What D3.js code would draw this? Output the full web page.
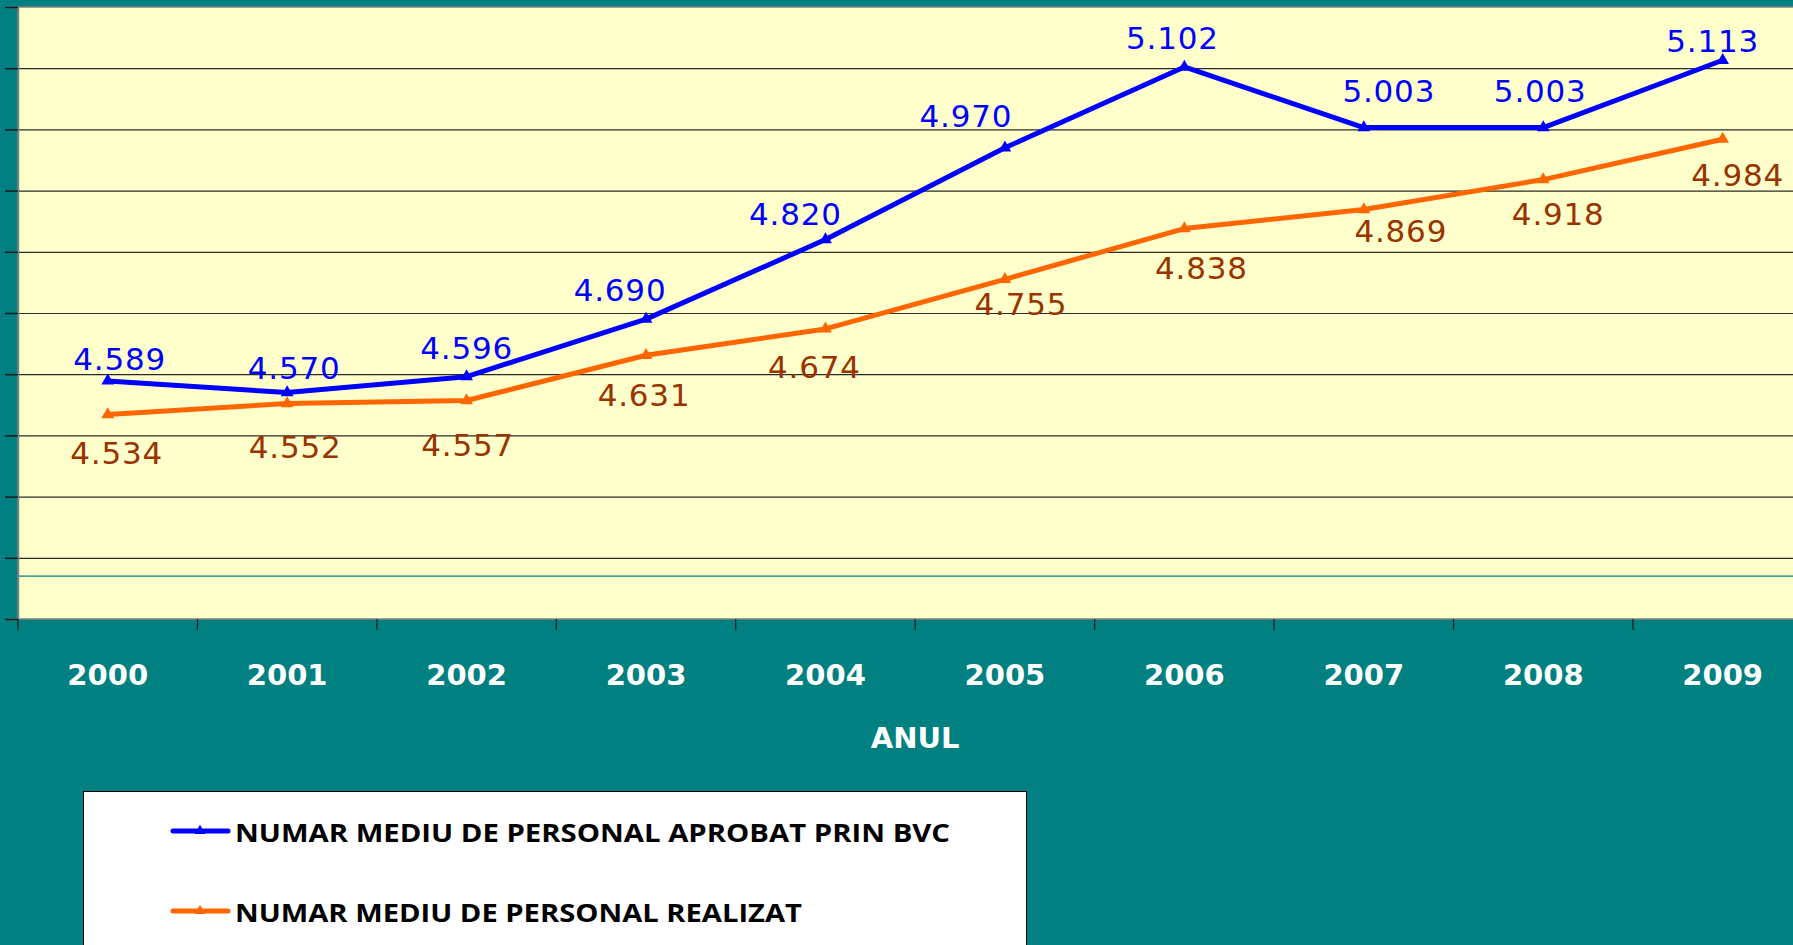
<!DOCTYPE html>
<html>
<head>
<meta charset="utf-8">
<script src="https://cdn.jsdelivr.net/npm/d3@7"></script>
<style>
  body { margin: 0; background: #008080; overflow: hidden; }
</style>
</head>
<body>
<div id="plot"></div>
<script>
// Data
const years = ["2000", "2001", "2002", "2003", "2004", "2005", "2006", "2007", "2008", "2009"];
const aprobat = [4.589, 4.570, 4.596, 4.690, 4.820, 4.970, 5.102, 5.003, 5.003, 5.113];
const realizat = [4.534, 4.552, 4.557, 4.631, 4.674, 4.755, 4.838, 4.869, 4.918, 4.984];
const seriesNames = ["NUMAR MEDIU DE PERSONAL APROBAT PRIN BVC", "NUMAR MEDIU DE PERSONAL REALIZAT"];
const xTitle = "ANUL";
const yDomain = [4.2, 5.2];
const refLine = 4.27;

// Label nudges (manual moves, like in the original sheet)
const blueNudgeX = [12, 7, 0, -26, -30, -39, -12, 25, -3, -10];
const blueNudgeY = [-22, -25, -29, -29, -26, -32, -29, -37, -37, -19];
const orangeNudgeX = [9, 8, 1, -2, -11, 16, 17, 37, 15, 15];
const orangeNudgeY = [38, 43, 44, 40, 38, 25, 39, 21, 34, 36];

function createPlot() {
    d3.select("#plot").html("");

    const width = 1793;
    const height = 945;
    const plotLeft = 18;
    const plotRight = 1812.4;   // plot runs past the window edge
    const plotTop = 7;
    const plotBottom = 619;

    const svg = d3.select("#plot")
        .append("svg")
        .attr("width", width)
        .attr("height", height)
        .attr("viewBox", [0, 0, width, height])
        .style("display", "block");

    svg.append("rect")
        .attr("width", width).attr("height", height)
        .attr("fill", "#008080");

    const x = d3.scaleBand()
        .domain(years)
        .range([plotLeft, plotRight])
        .padding(0);

    const y = d3.scaleLinear()
        .domain(yDomain)
        .range([plotBottom, plotTop]);

    const cx = d => x(d) + x.bandwidth() / 2;

    // plot area
    svg.append("rect")
        .attr("x", plotLeft)
        .attr("y", plotTop)
        .attr("width", plotRight - plotLeft)
        .attr("height", plotBottom - plotTop)
        .attr("fill", "#FFFFCC")
        .attr("stroke", "#808080")
        .attr("stroke-width", 1.5);

    // grid lines
    const yTicks = d3.range(yDomain[0] + 0.1, yDomain[1] - 0.05, 0.1);
    svg.append("g")
        .attr("transform", `translate(${plotLeft},0)`)
        .call(d3.axisLeft(y).tickValues(yTicks).tickSize(-(plotRight - plotLeft)).tickFormat(""))
        .call(g => g.select(".domain").remove())
        .call(g => g.selectAll("line").attr("stroke", "#2a2a2a").attr("stroke-width", 1.2));

    // teal reference line
    svg.append("line")
        .attr("x1", plotLeft).attr("x2", plotRight)
        .attr("y1", y(refLine)).attr("y2", y(refLine))
        .attr("stroke", "#008080")
        .attr("stroke-width", 1.2);

    // y axis tick marks (no labels)
    svg.append("g")
        .attr("transform", `translate(${plotLeft},0)`)
        .call(d3.axisLeft(y).tickValues(d3.range(yDomain[0], yDomain[1] + 0.05, 0.1)).tickSize(13).tickFormat(""))
        .call(g => g.select(".domain").attr("stroke", "#808080").attr("stroke-width", 1.5))
        .call(g => g.selectAll("line").attr("stroke", "#1a1a1a").attr("stroke-width", 1.5));

    // x axis: ticks at band edges
    const edges = years.map(d => x(d)).concat([plotRight]);
    svg.append("g")
        .selectAll("line")
        .data(edges)
        .join("line")
        .attr("x1", d => d).attr("x2", d => d)
        .attr("y1", plotBottom).attr("y2", plotBottom + 11)
        .attr("stroke", "#1a1a1a")
        .attr("stroke-width", 1.2);

    svg.append("g")
        .attr("transform", `translate(0,${plotBottom})`)
        .call(d3.axisBottom(x).tickSize(0).tickPadding(0))
        .call(g => g.select(".domain").remove())
        .call(g => g.selectAll("text")
            .attr("y", 66)
            .attr("dy", null)
            .attr("fill", "#ffffff")
            .style("font", "bold 29px 'DejaVu Sans', Verdana, sans-serif"));

    svg.append("text")
        .attr("x", (plotLeft + plotRight) / 2)
        .attr("y", 748)
        .attr("text-anchor", "middle")
        .attr("fill", "#ffffff")
        .style("font", "bold 29px 'DejaVu Sans', Verdana, sans-serif")
        .text(xTitle);

    // lines
    const series = [
        { name: seriesNames[0], values: aprobat, color: "#0000FF", label: "#0000FF", nx: blueNudgeX, ny: blueNudgeY },
        { name: seriesNames[1], values: realizat, color: "#FF6600", label: "#993300", nx: orangeNudgeX, ny: orangeNudgeY }
    ];

    const line = d3.line()
        .x((d, i) => cx(years[i]))
        .y(d => y(d));

    const tri = d3.symbol().type(d3.symbolTriangle).size(70);

    // draw orange first so blue sits on top
    series.slice().reverse().forEach(s => {
        svg.append("path")
            .datum(s.values)
            .attr("fill", "none")
            .attr("stroke", s.color)
            .attr("stroke-width", 5)
            .attr("stroke-linejoin", "round")
            .attr("d", line);

        svg.append("g")
            .selectAll("path")
            .data(s.values)
            .join("path")
            .attr("transform", (d, i) => `translate(${cx(years[i])},${y(d)})`)
            .attr("d", tri)
            .attr("fill", s.color);
    });

    series.forEach(s => {
        svg.append("g")
            .selectAll("text")
            .data(s.values)
            .join("text")
            .attr("x", (d, i) => cx(years[i]) + s.nx[i])
            .attr("y", (d, i) => y(d) + s.ny[i] + 11)
            .attr("text-anchor", "middle")
            .attr("fill", s.label)
            .style("font", "31px 'DejaVu Sans', Verdana, sans-serif")
            .style("letter-spacing", "0.8px")
            .text(d => d3.format(".3f")(d));
    });

    // legend
    const legend = svg.append("g");
    legend.append("rect")
        .attr("x", 83.5)
        .attr("y", 791.5)
        .attr("width", 943)
        .attr("height", 200)
        .attr("fill", "#ffffff")
        .attr("stroke", "#000000")
        .attr("stroke-width", 1);

    const legendY = [831, 911];
    const legendWidths = [715, 567];
    series.forEach((s, i) => {
        const g = legend.append("g").attr("transform", `translate(0,${legendY[i]})`);
        g.append("line")
            .attr("x1", 173).attr("x2", 228)
            .attr("y1", 0).attr("y2", 0)
            .attr("stroke", s.color)
            .attr("stroke-width", 5)
            .attr("stroke-linecap", "round");
        g.append("path")
            .attr("transform", "translate(200,0)")
            .attr("d", d3.symbol().type(d3.symbolTriangle).size(50))
            .attr("fill", s.color);
        g.append("text")
            .attr("x", 235)
            .attr("y", 11)
            .attr("fill", "#000000")
            .attr("textLength", legendWidths[i])
            .attr("lengthAdjust", "spacingAndGlyphs")
            .style("font", "bold 25px 'Open Sans', 'DejaVu Sans', sans-serif")
            .text(s.name);
    });

    return svg.node();
}

createPlot();
</script>
</body>
</html>
